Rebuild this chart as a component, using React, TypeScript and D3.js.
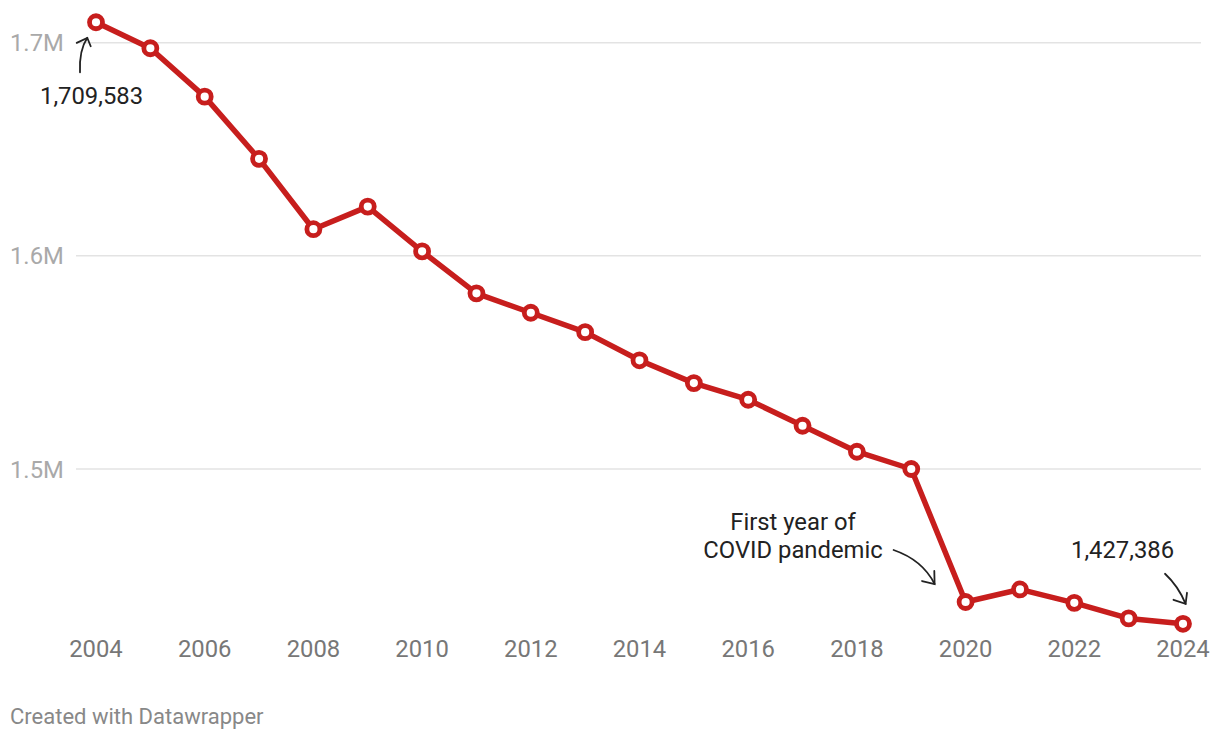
import React from 'react';
import { scaleLinear, line } from 'd3';

const years = [2004, 2005, 2006, 2007, 2008, 2009, 2010, 2011, 2012, 2013, 2014, 2015, 2016, 2017, 2018, 2019, 2020, 2021, 2022, 2023, 2024];
const values = [1709583, 1697400, 1674700, 1645500, 1612500, 1623100, 1602100, 1582400, 1573300, 1564200, 1551000, 1540300, 1532500, 1520300, 1508100, 1500000, 1437600, 1443500, 1437200, 1429900, 1427386];
const xTicks = [2004, 2006, 2008, 2010, 2012, 2014, 2016, 2018, 2020, 2022, 2024];
const yTicks = [1500000, 1600000, 1700000];
const yTickLabels = ['1.5M', '1.6M', '1.7M'];

const width = 1220;
const height = 740;
const red = '#c71e1d';
const font = 'Roboto, "Noto Sans", sans-serif';

const App: React.FC = () => {
    const x = scaleLinear().domain([2004, 2024]).range([96, 1183]);
    const y = scaleLinear().domain([1500000, 1700000]).range([469, 42.7]);

    const path = line<number>()
        .x((d, i) => x(years[i]))
        .y(d => y(d))(values) as string;

    // anchors for the annotations
    const p0 = { x: x(2004), y: y(values[0]) };
    const pc = { x: x(2020), y: y(values[16]) };
    const pl = { x: x(2024), y: y(values[20]) };

    return (
        <div style={{ position: 'absolute', left: 0, top: 0 }}>
            <svg width={width} height={height} style={{ display: 'block', background: '#fff' }}>
                {yTicks.map((t, i) => (
                    <g key={t}>
                        <line x1={76} x2={1201} y1={y(t)} y2={y(t)} stroke="#e3e3e3" strokeWidth={1.5} />
                        <text x={10} y={y(t)} dy="0.36em" fontFamily={font} fontSize={23.8} fill="#a9a9a9">{yTickLabels[i]}</text>
                    </g>
                ))}
                {xTicks.map(t => (
                    <text key={t} x={x(t)} y={657} textAnchor="middle" fontFamily={font} fontSize={23.8} fill="#777">{t}</text>
                ))}

                <path d={path} fill="none" stroke={red} strokeWidth={5.5} strokeLinejoin="round" />
                {values.map((v, i) => (
                    <circle key={years[i]} cx={x(years[i])} cy={y(v)} r={6.5} fill="#fff" stroke={red} strokeWidth={4.8} />
                ))}

                {/* annotations */}
                <g fontFamily={font} fontSize={23.8} fill="#222">
                    <text x={p0.x + 47} y={104} textAnchor="end">1,709,583</text>
                    <text x={793} y={530} textAnchor="middle">First year of</text>
                    <text x={793} y={558} textAnchor="middle">COVID pandemic</text>
                    <text x={pl.x - 9} y={558} textAnchor="end">1,427,386</text>
                </g>
                <g fill="none" stroke="#222" strokeWidth={1.8} strokeLinecap="round">
                    <path d={`M${p0.x - 16},${p0.y + 50} Q${p0.x - 17},${p0.y + 28} ${p0.x - 8.7},${p0.y + 15.6}`} />
                    <path d={`M${p0.x - 19.3},${p0.y + 20.6} L${p0.x - 8.7},${p0.y + 15.6} L${p0.x - 5.3},${p0.y + 24}`} />

                    <path d={`M${pc.x - 72},${pc.y - 52} Q${pc.x - 43},${pc.y - 42} ${pc.x - 31},${pc.y - 18}`} />
                    <path d={`M${pc.x - 31.3},${pc.y - 31} L${pc.x - 31},${pc.y - 18} L${pc.x - 43.5},${pc.y - 21}`} />

                    <path d={`M${pl.x - 18},${pl.y - 50} Q${pl.x - 5},${pl.y - 38} ${pl.x + 2.6},${pl.y - 20}`} />
                    <path d={`M${pl.x + 4},${pl.y - 31} L${pl.x + 2.6},${pl.y - 20} L${pl.x - 9.5},${pl.y - 24}`} />
                </g>

                <text x={10} y={724} fontFamily={font} fontSize={22} fill="#888">Created with Datawrapper</text>
            </svg>
        </div>
    );
};

export default App;
